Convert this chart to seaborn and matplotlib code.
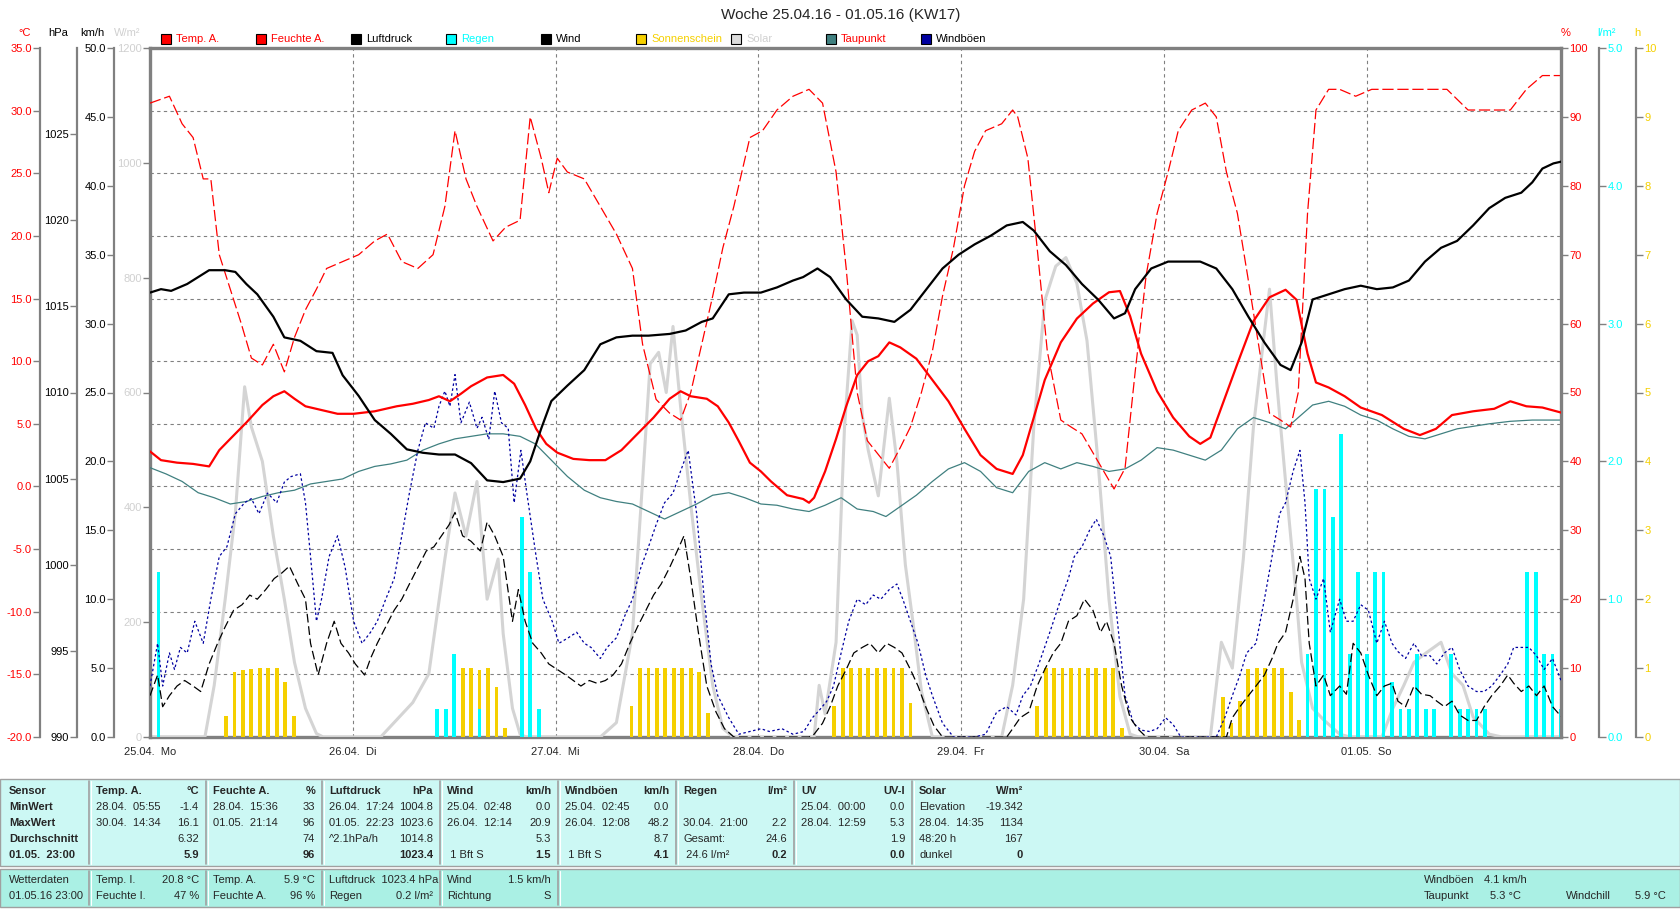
import matplotlib
matplotlib.use('Agg')
import seaborn as sns
from matplotlib import pyplot as plt
from matplotlib.patches import Rectangle

# ---------------- data (hours since 25.04.16 00:00) ----------------
TEMP_H = [0, 1.3, 3.2, 5.1, 7, 8.2, 9.5, 11.4, 13.3, 14.6, 15.9, 17.1, 18.4, 20.3, 22.2, 24.1, 26.6, 29.2,
          31.1, 33, 34.2, 35.5, 36.8, 38, 39.9, 41.8, 43.1, 44.4, 45.7, 46.9, 48.2, 50.1, 52, 53.9, 55.8,
          57.7, 59.6, 61.5, 62.8, 64, 65.9, 67.2, 68.5, 69.7, 71, 72.3, 73.5, 75.4, 77.3, 78, 78.6, 79.9,
          81.2, 82.4, 83.7, 85, 86.2, 87.5, 88.8, 90.7, 92.6, 94.5, 96.4, 98.3, 100.2, 102.1, 103.3, 104.6,
          105.9, 107.8, 109.7, 111.6, 113.5, 114.8, 116, 117.3, 119.2, 121.1, 123, 124.3, 125.5, 126.8,
          128.7, 130.6, 132.5, 134.4, 135.7, 137, 138, 139.5, 141.4, 143.3, 145.8, 148.4, 150.3, 152.2,
          154.1, 156.6, 159.1, 161, 162.9, 164.8, 167]
TEMP_V = [2.8, 2.1, 1.9, 1.8, 1.6, 2.9, 3.8, 5.1, 6.5, 7.2, 7.6, 7.0, 6.4, 6.1, 5.8, 5.8, 6.0, 6.4,
          6.6, 6.9, 7.2, 6.8, 7.4, 8.0, 8.7, 8.9, 8.2, 6.5, 4.6, 3.4, 2.7, 2.2, 2.1, 2.1, 2.9,
          4.2, 5.5, 7.0, 7.6, 7.2, 7.0, 6.4, 5.1, 3.6, 1.9, 1.2, 0.4, -0.7, -1.0, -1.3, -0.9, 1.2,
          3.8, 6.4, 8.9, 10.0, 10.4, 11.5, 11.1, 10.2, 8.5, 6.8, 4.6, 2.5, 1.4, 1.0, 2.5, 5.5,
          8.5, 11.5, 13.4, 14.6, 15.5, 15.6, 13.6, 10.6, 7.6, 5.5, 4.0, 3.4, 3.9, 6.3,
          9.8, 13.2, 15.1, 15.7, 14.9, 10.6, 8.3, 7.9, 7.2, 6.3, 5.7, 4.6, 4.1, 4.6,
          5.7, 6.0, 6.2, 6.8, 6.4, 6.3, 5.9]

HUM_H = [0, 2.3, 3.8, 5.1, 6.3, 7.2, 8.2, 9.5, 10.8, 12, 13.3, 14.6, 15.9, 17.1, 18.4, 19.7, 20.9, 22.8,
         24.7, 26.6, 28.1, 29.8, 31.7, 33.5, 34.9, 36.1, 37.4, 38.7, 40.6, 42.1, 43.8, 45, 46.3, 47.2,
         48.2, 49.4, 51.4, 53.3, 55.2, 57.1, 58.3, 59.9, 61.5, 62.8, 64, 65.3, 66.6, 67.8, 69.1, 71,
         72.5, 74.2, 76.1, 78, 79.6, 81.2, 82.4, 83.7, 84.9, 86.2, 87.5, 88.8, 90, 91.3, 92.6, 93.8,
         95.1, 96.4, 97.6, 98.9, 100.8, 102.1, 102.7, 103.9, 105, 106.2, 107.8, 109, 110.3, 112.2, 114.1,
         115.4, 116.6, 117.9, 119.2, 120.5, 121.7, 123.3, 124.9, 126.2, 127.4, 128.7, 129.9, 131.2,
         132.5, 133.8, 135, 135.9, 137, 138, 139.5, 140.8, 142.7, 144.6, 147.1, 150.9, 153.5, 156,
         158.5, 161, 162.9, 164.8, 167]
HUM_V = [92, 93, 89, 87, 81, 81, 70, 65, 60, 55, 54, 57, 53, 58, 62, 65, 68, 69,
         70, 72, 73, 69, 68, 70, 77, 88, 81, 77, 72, 74, 75, 90, 84, 79,
         84, 82, 81, 77, 73, 68, 57, 49, 47, 46, 50, 57, 64, 71, 77, 87,
         88, 91, 93, 94, 92, 82, 68, 50, 43, 41, 39, 42, 45, 50, 56, 64,
         71, 80, 85, 88, 89, 91, 90, 84, 71, 56, 46, 45, 44, 40, 36,
         39, 53, 67, 76, 82, 88, 91, 92, 90, 82, 76, 67, 57,
         47, 46, 45, 50, 76, 91, 94, 94, 93, 94, 94, 94, 94, 91,
         91, 91, 94, 96, 96]

PRESS_H = [0, 1.3, 2.5, 4.4, 5.7, 7, 8.9, 10.1, 11.4, 12.7, 14.6, 15.9, 17.8, 19.7, 21.6, 22.8, 24.7,
           26.6, 28.5, 30.4, 32.3, 34.2, 36.1, 38, 39.9, 41.8, 43.8, 45, 46.3, 47.5, 49.4, 51.4, 53.3,
           55.2, 57.1, 59, 61.5, 63.4, 65.3, 66.6, 68.5, 70.3, 72.3, 74.2, 76.1, 77.3, 79, 80.5, 82.4,
           84.3, 86.2, 88.1, 90, 91.9, 93.8, 95.7, 97.6, 99.5, 101.4, 103.3, 104.6, 106.5, 108.4, 110.3,
           112.2, 114.1, 115.4, 116.6, 118.5, 120.5, 122.4, 124.3, 126.2, 128.1, 130, 131.9, 133.8, 135,
           136.3, 137.6, 139.5, 141.4, 143.3, 145.2, 147.1, 149, 150.9, 152.8, 154.7, 156.6, 158.5,
           160.4, 162.3, 163.6, 164.8, 166.1, 167]
PRESS_V = [1015.8, 1016.0, 1015.9, 1016.3, 1016.7, 1017.1, 1017.1, 1017.0, 1016.3, 1015.7, 1014.4, 1013.2,
           1013.0, 1012.4, 1012.3, 1011.0, 1009.8, 1008.4, 1007.6, 1006.7, 1006.5, 1006.4, 1006.4, 1005.9,
           1004.9, 1004.8, 1005.0, 1006.0, 1007.9, 1009.5, 1010.4, 1011.3, 1012.8, 1013.2, 1013.3, 1013.3,
           1013.4, 1013.6, 1014.1, 1014.3, 1015.7, 1015.8, 1015.8, 1016.1, 1016.5, 1016.7, 1017.2, 1016.7,
           1015.4, 1014.4, 1014.3, 1014.1, 1014.8, 1016.0, 1017.2, 1018.0, 1018.6, 1019.1, 1019.7, 1019.9,
           1019.4, 1018.2, 1017.4, 1016.3, 1015.4, 1014.3, 1014.6, 1016.0, 1017.2, 1017.6, 1017.6, 1017.6,
           1017.2, 1016.0, 1014.4, 1012.9, 1011.6, 1011.3, 1012.9, 1015.4, 1015.7, 1016.0, 1016.2, 1016.0,
           1016.1, 1016.5, 1017.6, 1018.4, 1018.8, 1019.7, 1020.7, 1021.3, 1021.6, 1022.2, 1023.0, 1023.3,
           1023.4]

DEW_H = [0, 1.9, 3.8, 5.7, 7.6, 9.5, 11.4, 13.3, 15.2, 17.1, 19, 20.9, 22.8, 24.7, 26.6, 28.5, 30.4,
         32.3, 34.2, 36.1, 38, 39.9, 41.8, 43.8, 45.6, 47.5, 49.4, 51.4, 53.3, 55.2, 57.1, 59, 60.9,
         62.8, 64.7, 66.6, 68.5, 70.4, 72.3, 74.2, 76.1, 78, 79.9, 81.8, 83.7, 85.6, 87.1, 88.8, 90.7,
         92.6, 94.5, 96.4, 98.3, 100.2, 102.1, 104, 105.9, 107.8, 109.7, 111.6, 113.5, 115.4, 117.3,
         119.2, 121.1, 123, 124.9, 126.8, 128.7, 130.6, 132.5, 134.4, 135.9, 137.6, 139.5, 141.4, 143.3,
         145.2, 147.1, 149, 150.9, 152.8, 154.7, 156.6, 158.5, 161, 163.6, 167]
DEW_V = [1.5, 1.0, 0.4, -0.5, -0.9, -1.4, -1.2, -0.8, -0.5, -0.3, 0.2, 0.4, 0.6, 1.2, 1.6, 1.8, 2.1,
         2.9, 3.4, 3.8, 4.0, 4.2, 4.2, 4.0, 3.4, 2.1, 0.8, -0.3, -0.9, -1.2, -1.4, -2.0, -2.6,
         -2.0, -1.4, -0.7, -0.5, -0.9, -1.4, -1.5, -1.8, -2.0, -1.5, -0.9, -1.8, -2.0, -2.4, -1.6, -0.7,
         0.4, 1.4, 1.9, 1.2, -0.1, -0.5, 1.2, 1.9, 1.4, 1.9, 1.6, 1.2, 1.4, 2.1,
         3.1, 2.9, 2.5, 2.1, 2.9, 4.6, 5.5, 5.1, 4.6, 5.5, 6.5, 6.8, 6.4, 5.7,
         5.3, 4.6, 4.0, 3.8, 4.2, 4.6, 4.8, 5.0, 5.2, 5.3, 5.3]

SOLAR_H = [0, 6.5, 7.6, 8.9, 10.1, 11.2, 12, 13.3, 14.6, 15.9, 17.1, 18.4, 19.7, 20.5,
           27.3, 29.2, 31.1, 33, 34.9, 36.1, 37.4, 38.7, 39.9, 41.2, 41.8, 42.9, 43.8, 44.5,
           53.3, 55.2, 57.1, 58.3, 59.2, 60.2, 61.1, 61.9, 62.8, 64, 65.3, 66.6, 67.8, 69,
           78.6, 79.2, 79.9, 81.2, 82.2, 83.1, 83.7, 84.3, 85, 86.2, 87.5, 88.4, 89.4, 90.3, 91.3, 92.6,
           100.8, 102.1, 103.4, 104.6, 105.9, 107.2, 108.4, 109.7, 110.9, 112.2, 113.5, 114.8, 116, 117,
           125.5, 126.8, 128.1, 129.4, 130.6, 131.9, 132.5, 133.4, 134.4, 135.7, 136.3, 137.6, 138.9,
           140.8, 142, 145.8, 147.1, 148.4, 149.6, 150.9, 152.8, 154.1, 155.4, 156.6, 158.5, 160, 167]
SOLAR_V = [0, 0, 90, 240, 390, 610, 540, 480, 350, 240, 130, 50, 6, 0,
           0, 30, 60, 110, 310, 425, 350, 445, 240, 310, 180, 50, 5, 0,
           0, 25, 180, 445, 650, 670, 600, 715, 575, 405, 240, 90, 15, 0,
           0, 90, 40, 165, 540, 725, 700, 560, 500, 420, 590, 480, 300, 200, 80, 0,
           0, 90, 240, 540, 760, 820, 835, 790, 690, 480, 240, 70, 5, 0,
           0, 165, 120, 310, 540, 705, 780, 610, 445, 240, 130, 50, 30,
           5, 0, 0, 50, 90, 130, 145, 165, 110, 90, 35, 5, 0, 0]

WIND_H = [0, 0.9, 1.5, 2.3, 3.2, 4.1, 5.1, 6, 7, 8, 8.9, 9.9, 10.9, 11.8, 12.7, 13.7, 14.7, 15.6, 16.5,
          17.5, 18.4, 19, 19.9, 20.9, 21.8, 22.6, 23.5, 24.3, 25.4, 26.1, 26.9, 27.9, 28.9, 29.8, 30.7,
          31.7, 32.7, 33.6, 34.5, 35.4, 36.1, 37, 38, 39.1, 39.9, 40.8, 41.8, 42.9, 43.6, 44.4, 45.3,
          46.3, 47.2, 48.2, 49.2, 50.1, 51, 52, 52.9, 53.9, 54.8, 55.8, 56.8, 57.7, 58.7, 59.6, 60.5,
          61.5, 62.4, 63.2, 64, 64.9, 65.9, 67, 68, 69.1, 78, 78.6, 79.6, 80.5, 81.4, 82.4, 83.3, 84.3,
          85.2, 86.2, 87.2, 88.1, 89, 90, 90.9, 91.8, 92.8, 93.8, 101.4, 102.1, 103, 104, 105, 105.9,
          106.9, 107.8, 108.7, 109.7, 110.6, 111.6, 112.5, 113.2, 114.1, 115, 116, 116.9, 117.9, 127.4,
          128.1, 129, 130, 130.9, 131.9, 132.8, 133.5, 134.4, 135.3, 136.1, 136.7, 137.2, 138, 138.9,
          139.7, 140.8, 141.6, 142.4, 143.3, 144.2, 145.2, 146.1, 147, 147.7, 148.6, 149.6, 150.5,
          151.5, 152.3, 153.2, 154.1, 155, 156, 157, 157.9, 158.8, 159.8, 160.7, 161.4, 162.3, 163.2,
          164.1, 165, 166, 167]
WIND_V = [3.0, 4.5, 2.2, 3.0, 3.7, 4.1, 3.7, 3.3, 5.3, 6.8, 8.0, 9.2, 9.6, 10.3, 10.0, 10.7, 11.5, 11.9, 12.4,
          11.1, 10.0, 6.8, 4.5, 6.8, 8.4, 6.8, 6.1, 5.3, 4.5, 5.7, 6.8, 8.0, 9.2, 10.0, 11.1,
          12.3, 13.5, 13.8, 14.6, 15.4, 16.3, 14.6, 14.2, 13.5, 15.6, 14.6, 13.1, 8.4, 10.7, 8.4, 6.8,
          6.1, 5.3, 4.9, 4.5, 4.1, 3.7, 4.1, 3.9, 4.1, 4.5, 5.3, 6.8, 8.0, 9.2, 10.3, 11.1,
          12.3, 13.5, 14.6, 11.5, 7.6, 3.7, 1.8, 0.6, 0, 0, 0.2, 1.0, 2.2, 3.7, 4.9, 6.1, 6.5,
          6.8, 6.1, 6.8, 6.5, 6.1, 4.9, 3.7, 2.2, 0.8, 0, 0, 0.6, 1.4, 1.8, 3.7, 4.9,
          6.1, 6.8, 8.4, 8.8, 10.0, 9.2, 7.6, 8.4, 6.8, 3.7, 1.4, 0.6, 0, 0,
          1.4, 2.2, 3.0, 3.7, 4.5, 5.7, 6.8, 7.6, 10.0, 13.1, 11.5, 6.8, 3.7, 4.5,
          3.0, 3.7, 3.1, 6.8, 6.1, 4.5, 3.0, 3.7, 3.9, 2.6, 2.2, 3.7, 3.1,
          3.0, 2.6, 2.2, 2.6, 1.6, 1.2, 1.2, 2.2, 3.0, 3.7, 4.5, 3.9, 3.3, 3.7,
          3.0, 3.7, 2.2, 1.5]

GUST_H = [0, 0.9, 1.5, 2.3, 2.9, 3.6, 4.4, 5.3, 6.3, 7.2, 8.2, 9.1, 10.1, 11.2, 12, 12.9, 13.9, 15, 15.9,
          16.7, 17.8, 18.4, 19, 19.7, 20.3, 21.2, 22.2, 23.1, 24.1, 25.1, 26.1, 26.9, 27.9, 28.9, 29.8,
          30.7, 31.7, 32.6, 33.6, 34.2, 34.9, 35.5, 36.1, 36.8, 37.8, 38.7, 39.3, 40.1, 40.8, 41.6, 42.4,
          43.1, 43.9, 44.6, 45.7, 46.5, 47.6, 48.4, 49.5, 50.5, 51.4, 52.2, 53.3, 54.1, 55.2, 56.2, 57.1,
          58.1, 59, 59.9, 60.9, 61.9, 62.8, 63.7, 64.7, 65.6, 66.4, 67.2, 68.5, 69.7, 71, 72.3, 73.3,
          74.8, 76.1, 77.4, 78.4, 79.3, 80.1, 80.9, 81.8, 82.7, 83.7, 84.7, 85.6, 86.5, 87.5, 88.4, 89.1,
          90, 90.9, 91.8, 92.6, 93.8, 95.1, 97.6, 98.9, 100.2, 101.4, 102.5, 103.3, 104.2, 105.2, 106.5,
          107.8, 108.7, 109.4, 110.3, 111.2, 112, 112.9, 113.7, 114.5, 115.4, 116.4, 117.3, 118.3, 119.2,
          120.2, 121.1, 122, 126.2, 127.2, 128.1, 129, 129.8, 130.9, 131.9, 132.8, 133.7, 134.4, 135.3,
          136.1, 136.7, 137.2, 138, 138.9, 139.7, 140.8, 141.6, 142.4, 143.3, 144.2, 145.2, 146.1, 147,
          147.7, 148.6, 149.6, 150.5, 151.5, 152.3, 153.2, 154.1, 155, 156, 157, 157.9, 158.8, 159.8,
          160.7, 161.4, 162.3, 163.2, 164.1, 165, 166, 167]
GUST_V = [3.7, 6.8, 3.7, 6.1, 4.9, 6.5, 6.1, 8.4, 6.8, 10.0, 13.1, 13.8, 16.2, 17.0, 17.3, 16.2, 17.7, 17.0, 18.5,
          18.9, 19.1, 17.0, 13.1, 8.4, 10.0, 13.1, 14.6, 12.3, 8.4, 6.8, 7.6, 8.4, 10.0, 11.5, 14.6,
          17.7, 20.8, 22.8, 22.4, 24.0, 25.1, 24.0, 26.3, 22.8, 24.3, 22.4, 23.2, 21.6, 25.1, 22.8, 22.4,
          17.0, 20.8, 17.7, 13.1, 10.0, 8.4, 6.8, 7.2, 7.6, 6.8, 6.5, 5.7, 6.5, 7.2, 8.8, 10.0,
          12.3, 13.8, 15.4, 17.0, 17.7, 19.3, 20.8, 16.2, 10.0, 5.3, 3.0, 1.4, 0.2, 0.4, 0.6, 0.4,
          0.6, 0.2, 0.4, 1.4, 2.0, 2.6, 3.7, 6.1, 8.4, 10.0, 9.6, 10.3, 10.0, 10.7, 11.1, 10.0,
          8.4, 6.8, 4.5, 3.0, 1.0, 0, 0, 0.2, 1.8, 2.2, 1.6, 3.0, 3.7, 5.3, 7.6,
          10.0, 11.5, 13.1, 13.8, 15.0, 15.8, 14.6, 13.1, 8.4, 3.0, 1.0, 0.5, 0.4, 0.6,
          1.4, 0.9, 0, 0, 1.4, 3.0, 4.5, 6.1, 6.8, 10.0, 13.1, 16.2, 17.0, 19.3,
          20.8, 17.0, 11.5, 10.0, 11.5, 7.6, 10.0, 8.4, 8.4, 9.6, 9.2, 6.8, 8.4, 6.8,
          6.2, 5.7, 6.8, 5.9, 5.9, 5.3, 6.1, 6.5, 4.9, 3.7, 3.3, 3.3, 3.7, 4.5,
          5.3, 6.5, 6.5, 6.5, 5.9, 4.9, 5.7, 4.1]

RAIN_H = [1, 34, 35, 36, 39, 44, 45, 46, 137, 138, 139, 140, 141, 142, 143, 144, 145, 146, 147, 148,
          149, 150, 151, 152, 154, 155, 156, 157, 158, 163, 164, 165, 166, 167]
RAIN_V = [1.2, 0.2, 0.2, 0.6, 0.2, 1.6, 1.2, 0.2, 0.6, 1.8, 1.8, 1.6, 2.2, 0.6, 1.2, 0.6, 1.2, 1.2, 0.4, 0.2,
          0.2, 0.6, 0.2, 0.2, 0.6, 0.2, 0.2, 0.2, 0.2, 1.2, 1.2, 0.6, 0.6, 0.2]

SUN_H = [9, 10, 11, 12, 13, 14, 15, 16, 17, 34, 35, 36, 37, 38, 39, 40, 41, 42,
         57, 58, 59, 60, 61, 62, 63, 64, 65, 66, 81, 82, 83, 84, 85, 86, 87, 88, 89, 90,
         105, 106, 107, 108, 109, 110, 111, 112, 113, 114, 115,
         127, 128, 129, 130, 131, 132, 133, 134, 135, 136, 156]
SUN_V = [0.3, 0.95, 0.97, 0.98, 1.0, 1.0, 1.0, 0.8, 0.3, 0.2, 0.1, 0.9, 1.0, 1.0, 0.97, 1.0, 0.72, 0.13,
         0.45, 1.0, 1.0, 1.0, 1.0, 1.0, 1.0, 1.0, 0.95, 0.35, 0.45, 1.0, 1.0, 1.0, 1.0, 1.0, 1.0, 1.0, 1.0, 0.5,
         0.45, 1.0, 1.0, 1.0, 1.0, 1.0, 1.0, 1.0, 1.0, 1.0, 0.13,
         0.58, 0.2, 0.52, 0.98, 1.0, 1.0, 1.0, 1.0, 0.65, 0.24, 0.1]

DAY_H = [0, 24, 48, 72, 96, 120, 144]
DAY_LABELS = ['25.04.  Mo', '26.04.  Di', '27.04.  Mi', '28.04.  Do', '29.04.  Fr', '30.04.  Sa', '01.05.  So']

TABLE_TOP = [
    [('Sensor', ''), ('Temp. A.', '°C'), ('Feuchte A.', '%'), ('Luftdruck', 'hPa'), ('Wind', 'km/h'),
     ('Windböen', 'km/h'), ('Regen', 'l/m²'), ('UV', 'UV-I'), ('Solar', 'W/m²')],
    [('MinWert', ''), ('28.04.  05:55', '-1.4'), ('28.04.  15:36', '33'), ('26.04.  17:24', '1004.8'),
     ('25.04.  02:48', '0.0'), ('25.04.  02:45', '0.0'), ('', ''), ('25.04.  00:00', '0.0'), ('Elevation', '-19.342')],
    [('MaxWert', ''), ('30.04.  14:34', '16.1'), ('01.05.  21:14', '96'), ('01.05.  22:23', '1023.6'),
     ('26.04.  12:14', '20.9'), ('26.04.  12:08', '48.2'), ('30.04.  21:00', '2.2'), ('28.04.  12:59', '5.3'),
     ('28.04.  14:35', '1134')],
    [('Durchschnitt', ''), ('', '6.32'), ('', '74'), ('^2.1hPa/h', '1014.8'), ('', '5.3'), ('', '8.7'),
     ('Gesamt:', '24.6'), ('', '1.9'), ('48:20 h', '167')],
    [('01.05.  23:00', ''), ('', '5.9'), ('', '96'), ('', '1023.4'), (' 1 Bft S', '1.5'), (' 1 Bft S', '4.1'),
     (' 24.6 l/m²', '0.2'), ('', '0.0'), ('dunkel', '0')],
]
TABLE_BOTTOM = [
    [('Wetterdaten', ''), ('Temp. I.', '20.8 °C'), ('Temp. A.', '5.9 °C'), ('Luftdruck  1023.4 hPa', ''),
     ('Wind', '1.5 km/h')],
    [('01.05.16 23:00', ''), ('Feuchte I.', '47 %'), ('Feuchte A.', '96 %'), ('Regen', '0.2 l/m²'),
     ('Richtung', 'S')],
]
CURRENT = [('Windböen', '4.1 km/h', '', ''), ('Taupunkt', '5.3 °C', 'Windchill', '5.9 °C')]

LEGEND = [('Temp. A.', '#ff0000', '#ff0000'), ('Feuchte A.', '#ff0000', '#ff0000'),
          ('Luftdruck', '#000000', '#000000'), ('Regen', '#00ffff', '#00ffff'),
          ('Wind', '#000000', '#000000'), ('Sonnenschein', '#f5d000', '#f5d000'),
          ('Solar', '#dcdcdc', '#d0d0d0'), ('Taupunkt', '#408080', '#ff0000'),
          ('Windböen', '#0000a0', '#000000')]

# ---------------- styling ----------------
RED = '#ff0000'
CYAN = '#00ffff'
GOLD = '#f5d000'
SOLAR = '#d4d4d4'
DEW = '#408080'
GUST = '#0000a0'
GRAY = '#808080'
FS = 8

sns.set_style('white')
plt.rcParams['font.family'] = ['Liberation Sans', 'DejaVu Sans']

W, H = 1680, 909
fig = plt.figure(figsize=(W / 100, H / 100), dpi=100)
PL, PR, PT, PB = 150, 1561, 48, 737
ax = fig.add_axes([PL / W, 1 - PB / H, (PR - PL) / W, (PB - PT) / H])
ax.set_xlim(0, 167)
ax.set_ylim(-20, 35)


def frac(px):
    return (px - PL) / (PR - PL)


def scale_axis(side, pos_px, lo, hi, ticks, fmt, color, visible=True):
    a = ax.twinx()
    a.set_ylim(lo, hi)
    a.set_xlim(0, 167)
    for s in a.spines.values():
        s.set_visible(False)
    if not visible:
        a.set_yticks([])
        return a
    if side == 'left':
        a.yaxis.tick_left()
    else:
        a.yaxis.tick_right()
    sp = a.spines[side]
    sp.set_visible(True)
    sp.set_position(('axes', frac(pos_px)))
    sp.set_color(GRAY)
    sp.set_linewidth(1.6 if pos_px not in (PL, PR) else 2.4)
    a.set_yticks(ticks)
    a.set_yticklabels([fmt.format(t) for t in ticks], color=color, fontsize=FS)
    a.tick_params(axis='y', direction='out', length=5, width=1, color=GRAY, pad=1)
    return a


# host axis: grid, °C scale, day labels
ax.spines['right'].set_visible(False)
for s in ('top', 'bottom'):
    ax.spines[s].set_color(GRAY)
    ax.spines[s].set_linewidth(2.4)
ax.spines['left'].set_position(('axes', frac(40)))
ax.spines['left'].set_color(GRAY)
ax.spines['left'].set_linewidth(1.6)
ax.set_yticks(range(-20, 36, 5))
ax.set_yticklabels(['{:.1f}'.format(t) for t in range(-20, 36, 5)], color=RED, fontsize=FS)
ax.tick_params(axis='y', direction='out', length=5, width=1, color=GRAY, pad=1)
ax.set_xticks(DAY_H)
ax.set_xticklabels(DAY_LABELS, fontsize=FS)
ax.tick_params(axis='x', length=0, pad=7)
ax.grid(True, color=GRAY, linestyle=(0, (3, 3)), linewidth=0.8)

ax_sol = scale_axis('left', PL, 0, 1200, range(0, 1201, 200), '{:d}', '#d0d0d0')
ax_sun = scale_axis('right', 1636, 0, 10, range(0, 11), '{:d}', GOLD)
ax_rain = scale_axis('right', 1599, 0, 5, [0, 1, 2, 3, 4, 5], '{:.1f}', CYAN)
ax_dew = scale_axis('left', 0, -20, 35, [], '', RED, visible=False)
ax_hum = scale_axis('right', PR, 0, 100, range(0, 101, 10), '{:d}', RED)
ax_gust = scale_axis('left', 114, 0, 50, range(0, 51, 5), '{:.1f}', 'black')
ax_wind = scale_axis('left', 0, 0, 50, [], '', 'black', visible=False)
ax_temp = scale_axis('left', 0, -20, 35, [], '', RED, visible=False)
ax_pres = scale_axis('left', 77.5, 990, 1030, range(990, 1026, 5), '{:d}', 'black')

# series
sns.lineplot(x=SOLAR_H, y=SOLAR_V, ax=ax_sol, color=SOLAR, lw=2.2)
ax_sun.bar(SUN_H, SUN_V, width=0.45, color=GOLD, linewidth=0)
ax_rain.bar(RAIN_H, RAIN_V, width=0.45, color=CYAN, linewidth=0)
sns.lineplot(x=DEW_H, y=DEW_V, ax=ax_dew, color=DEW, lw=0.9)
sns.lineplot(x=HUM_H, y=HUM_V, ax=ax_hum, color=RED, lw=0.9, linestyle=(0, (9, 3)))
sns.lineplot(x=GUST_H, y=GUST_V, ax=ax_gust, color=GUST, lw=0.9, linestyle=(0, (2, 2)))
sns.lineplot(x=WIND_H, y=WIND_V, ax=ax_wind, color='black', lw=0.9, linestyle=(0, (7, 3)))
sns.lineplot(x=TEMP_H, y=TEMP_V, ax=ax_temp, color=RED, lw=1.6)
sns.lineplot(x=PRESS_H, y=PRESS_V, ax=ax_pres, color='black', lw=1.6)
for a in (ax_sol, ax_sun, ax_rain, ax_dew, ax_hum, ax_gust, ax_wind, ax_temp, ax_pres):
    a.set_xlim(0, 167)
    a.set_xlabel('')
    a.set_ylabel('')

# ---------------- overlay: title, legend, unit headers, table ----------------
ov = fig.add_axes([0, 0, 1, 1], zorder=-1)
ov.set_xlim(0, W)
ov.set_ylim(H, 0)
ov.axis('off')

ov.text(841, 15, 'Woche 25.04.16 - 01.05.16 (KW17)', ha='center', va='center', fontsize=11)
for txt, x, c in [('°C', 25, RED), ('hPa', 58, 'black'), ('km/h', 92, 'black'), ('W/m²', 127, '#d0d0d0'),
                  ('%', 1566, RED), ('l/m²', 1607, CYAN), ('h', 1637, GOLD)]:
    ov.text(x, 33, txt, ha='center', va='center', fontsize=FS, color=c)

for i, (name, fc, tc) in enumerate(LEGEND):
    x0 = 161 + i * 95
    ov.add_patch(Rectangle((x0, 34), 10, 10, facecolor=fc, edgecolor='black', lw=0.8))
    ov.text(x0 + 15, 39.5, name, ha='left', va='center', fontsize=FS, color=tc)

# table panels
ov.add_patch(Rectangle((0, 779), W, 87, facecolor='#ccf8f4', edgecolor='#a0a0a0', lw=1))
ov.add_patch(Rectangle((0, 869), W, 38, facecolor='#aaf0e4', edgecolor='#a0a0a0', lw=1))
SEPS = [0, 89, 206, 322, 440, 558, 676, 794, 912, 1030]
for xs in SEPS[1:9]:
    ov.plot([xs, xs], [781, 864], color='#a0a0a0', lw=1.2)
    ov.plot([xs + 1.5, xs + 1.5], [781, 864], color='white', lw=0.8)
for xs in SEPS[1:6]:
    ov.plot([xs, xs], [871, 905], color='#a0a0a0', lw=1.2)
    ov.plot([xs + 1.5, xs + 1.5], [871, 905], color='white', lw=0.8)

ROW_Y = [791, 807, 823, 839, 855]
for r, row in enumerate(TABLE_TOP):
    bold = r == 0 or r == 4
    for c, (left, right) in enumerate(row):
        x_l = SEPS[c] + 7 if c else 9
        x_r = SEPS[c + 1] - 7
        wl = 'bold' if (bold or c == 0) and not (r == 4 and c in (4, 5, 6, 8)) else 'normal'
        ov.text(x_l, ROW_Y[r], left, ha='left', va='center', fontsize=FS, fontweight=wl)
        ov.text(x_r, ROW_Y[r], right, ha='right', va='center', fontsize=FS,
                fontweight='bold' if bold else 'normal')

ROW_Y2 = [880, 896]
for r, row in enumerate(TABLE_BOTTOM):
    for c, (left, right) in enumerate(row):
        x_l = SEPS[c] + 7 if c else 9
        x_r = SEPS[c + 1] - 7
        ov.text(x_l, ROW_Y2[r], left, ha='left', va='center', fontsize=FS)
        ov.text(x_r, ROW_Y2[r], right, ha='right', va='center', fontsize=FS)
for r, (a, b, c, d) in enumerate(CURRENT):
    ov.text(1424, ROW_Y2[r], a, ha='left', va='center', fontsize=FS)
    ov.text(1484 if r == 0 else 1490, ROW_Y2[r], b, ha='left', va='center', fontsize=FS)
    ov.text(1566, ROW_Y2[r], c, ha='left', va='center', fontsize=FS)
    ov.text(1666, ROW_Y2[r], d, ha='right', va='center', fontsize=FS)

fig.savefig('out.png', dpi=100)
